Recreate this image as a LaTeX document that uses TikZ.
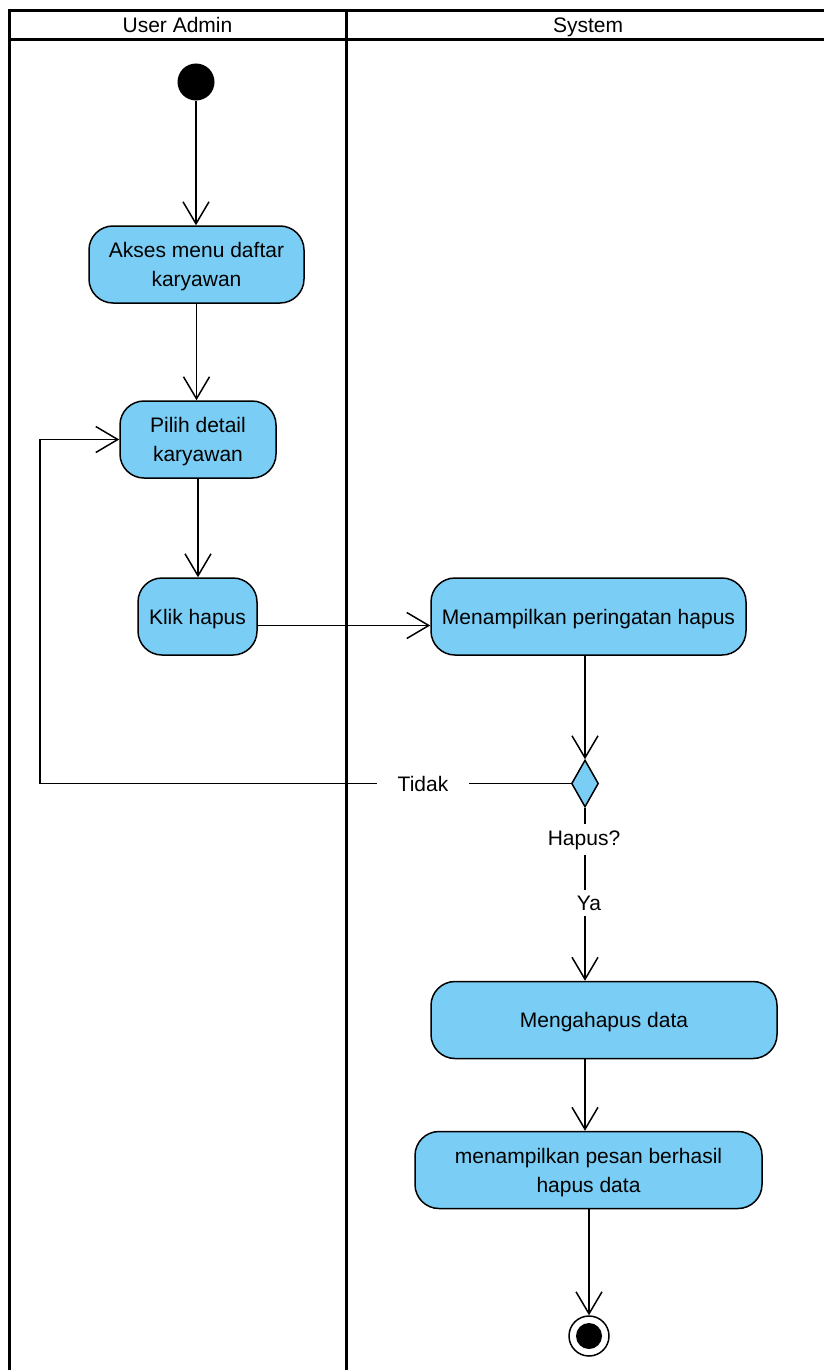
\documentclass[tikz,border=0pt]{standalone}
\usepackage{fontspec}
\setmainfont{Liberation Sans}
\usetikzlibrary{arrows.meta,shapes.geometric}
\definecolor{actfill}{RGB}{122,206,245}
\begin{document}
\begin{tikzpicture}[x=1pt,y=-1pt,
  act/.style={draw=black,line width=1.5pt,fill=actfill,rounded corners=24pt,align=center,
    font=\fontsize{21}{29}\selectfont,inner sep=0pt,minimum height=77pt,text depth=-1pt},
  twoline/.style={text depth=-4pt},
  flow/.style={line width=1.5pt,-{Straight Barb[length=22pt,width=26pt,line width=1.5pt]}},
  lane/.style={line width=3pt},
  hdr/.style={font=\fontsize{21}{25}\selectfont,inner sep=0pt,anchor=base},
  lbl/.style={font=\fontsize{21}{25}\selectfont,fill=white,inner xsep=4pt,inner ysep=6pt,anchor=base},
  dec/.style={diamond,draw=black,line width=1.5pt,fill=actfill,inner sep=0pt,
    minimum width=27pt,minimum height=47pt},
  startnode/.style={circle,fill=black,inner sep=0pt,minimum size=37pt},
  endouter/.style={circle,draw=black,line width=1.5pt,fill=white,inner sep=0pt,minimum size=40pt},
  endinner/.style={circle,fill=black,inner sep=0pt,minimum size=26pt}]
\useasboundingbox (0,0) rectangle (823,1370);
% swimlanes
\draw[lane] (9,1372) -- (9,11) -- (825,11);
\draw[lane] (9,40) -- (825,40);
\draw[lane] (346,11) -- (346,1372);
\node[hdr] (h1) at (177.5,33) {User Admin};
\node[hdr] (h2) at (588,33) {System};
% nodes
\node[startnode] (start) at (196,82) {};
\node[act,twoline,minimum width=215pt] (a1) at (196.5,264.5) {Akses menu daftar\\karyawan};
\node[act,twoline,minimum width=156pt] (a2) at (198,439.5) {Pilih detail\\karyawan};
\node[act,minimum width=119pt] (a3) at (197.5,616.5) {Klik hapus};
\node[act,minimum width=315pt] (a4) at (588.5,616.5) {Menampilkan peringatan hapus};
\node[dec] (d1) at (585,783.5) {};
\node[act,minimum width=346pt] (a5) at (604,1020) {Mengahapus data};
\node[act,twoline,minimum width=347pt] (a6) at (588.5,1170) {menampilkan pesan berhasil\\hapus data};
\node[endouter] (endo) at (589,1336) {};
\node[endinner] (endi) at (589,1336) {};
% connectors
\draw[flow] (start.south) -- (start.south |- a1.north);
\draw[flow] (a1.south) -- (a1.south |- a2.north);
\draw[flow] (a2.south) -- (a2.south |- a3.north);
\coordinate (k1) at ([yshift=-9pt]a3.east);
\draw[flow] (k1) -- (k1 -| a4.west);
\coordinate (m1) at (585,655);
\draw[flow] (m1) -- (d1.north);
\coordinate (t1) at (40,783.5);
\coordinate (t2) at (40,439.5);
\draw[flow] (d1.west) -- (t1) -- (t2) -- (a2.west);
\draw[flow] (d1.south) -- (d1.south |- a5.north);
\coordinate (y2) at (585,1058);
\draw[flow] (y2) -- (y2 |- a6.north);
\coordinate (z1) at (589,1208);
\draw[flow] (z1) -- (endo.north);
% labels
\node[lbl,inner xsep=21pt] (tidak) at (423,791) {Tidak};
\node[lbl] (hapus) at (584,845) {Hapus?};
\node[lbl] (ya) at (589,910) {Ya};
\end{tikzpicture}
\end{document}
